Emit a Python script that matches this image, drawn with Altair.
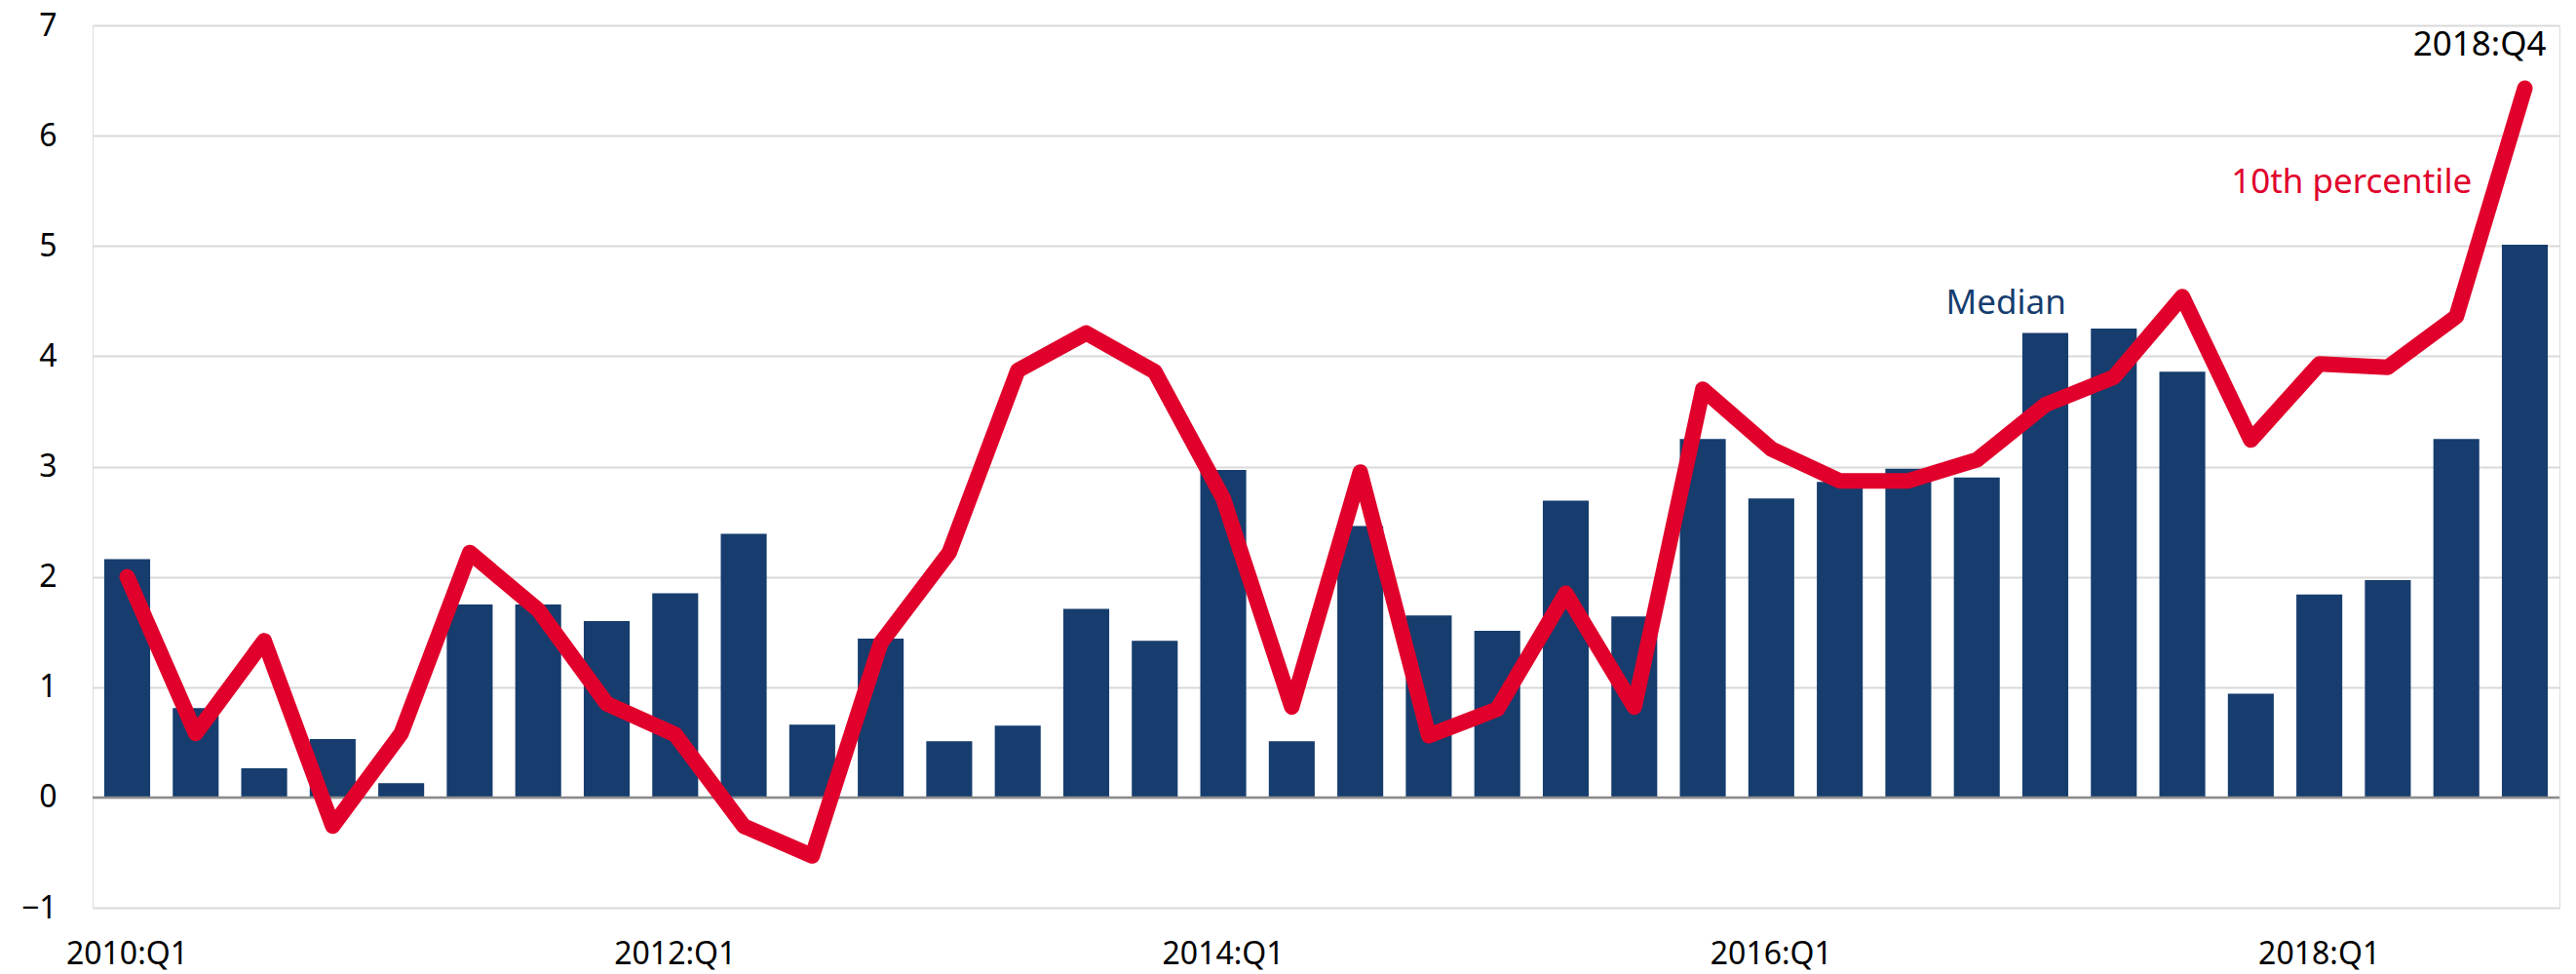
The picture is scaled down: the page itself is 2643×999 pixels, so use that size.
import altair as alt
import pandas as pd

quarters = [f"{y}:Q{q}" for y in range(2010, 2019) for q in range(1, 5)]

median = [2.16, 0.81, 0.265, 0.53, 0.13, 1.75, 1.75, 1.60, 1.85, 2.39, 0.66, 1.44,
          0.51, 0.65, 1.71, 1.42, 2.97, 0.51, 2.46, 1.65, 1.51, 2.69, 1.64, 3.25,
          2.71, 2.86, 2.98, 2.90, 4.21, 4.25, 3.86, 0.94, 1.84, 1.97, 3.25, 5.01]

pct10 = [2.00, 0.58, 1.42, -0.26, 0.58, 2.22, 1.70, 0.85, 0.57, -0.26, -0.53, 1.40,
         2.22, 3.87, 4.21, 3.86, 2.71, 0.82, 2.95, 0.56, 0.80, 1.85, 0.82, 3.70,
         3.16, 2.87, 2.87, 3.06, 3.56, 3.81, 4.54, 3.24, 3.93, 3.90, 4.36, 6.43]

tick_labels = ["2010:Q1", "2012:Q1", "2014:Q1", "2016:Q1", "2018:Q1"]

ann_text = ["2018:Q4", "10th percentile", "Median"]
ann_x = ["2018:Q4", "2018:Q1", "2016:Q4"]
ann_y = [6.82, 5.58, 4.48]
ann_color = ["#000000", "#E0002B", "#163D6E"]
ann_dx = [22, 33, 30]
ann_align = ["right", "center", "center"]

NAVY = "#163D6E"
RED = "#E0002B"
FONT = "Noto Sans"

df = pd.DataFrame({"quarter": quarters, "median": median, "pct10": pct10})

x_enc = alt.X(
    "quarter:N",
    sort=quarters,
    scale=alt.Scale(paddingInner=0.33, paddingOuter=0.17),
    axis=alt.Axis(
        values=tick_labels, labelAngle=0, title=None, ticks=False, domain=False,
        labelFont=FONT, labelFontSize=32, labelColor="#000000", labelPadding=32,
        grid=False,
    ),
)
y_scale = alt.Scale(domain=[-1, 7], nice=False, zero=False)

base = alt.Chart(df)

bars = base.mark_bar(color=NAVY).encode(
    x=x_enc,
    y=alt.Y(
        "median:Q", scale=y_scale,
        axis=alt.Axis(
            values=list(range(-1, 8)), title=None, ticks=False, domain=False,
            labelFont=FONT, labelFontSize=32, labelColor="#000000", labelPadding=37,
            grid=True, gridColor="#d9d9d9", gridWidth=2, format="d",
        ),
    ),
    y2=alt.datum(0),
)

zero_rule = alt.Chart(pd.DataFrame({"v": [0]})).mark_rule(
    color="#8c8c8c", strokeWidth=2.5
).encode(y=alt.Y("v:Q", scale=y_scale))

line = base.mark_line(
    color=RED, strokeWidth=16, strokeCap="round", strokeJoin="round"
).encode(x=alt.X("quarter:N", sort=quarters), y=alt.Y("pct10:Q", scale=y_scale))

texts = []
for t, xq, yv, c, dx, al in zip(ann_text, ann_x, ann_y, ann_color, ann_dx, ann_align):
    texts.append(
        alt.Chart(pd.DataFrame({"quarter": [xq], "v": [yv], "label": [t]}))
        .mark_text(font=FONT, fontSize=35, color=c, dx=dx, align=al, baseline="middle")
        .encode(x=alt.X("quarter:N", sort=quarters), y=alt.Y("v:Q", scale=y_scale),
                text="label:N")
    )

chart = alt.layer(bars, zero_rule, line, *texts).properties(
    width=2531, height=905,
    autosize=alt.AutoSizeParams(type="none"),
    padding={"left": 87, "top": 18, "right": 5, "bottom": 69},
).configure_view(stroke=None).configure(background="#ffffff")

chart.save("out.html", embed_options={"renderer": "svg", "actions": False})
